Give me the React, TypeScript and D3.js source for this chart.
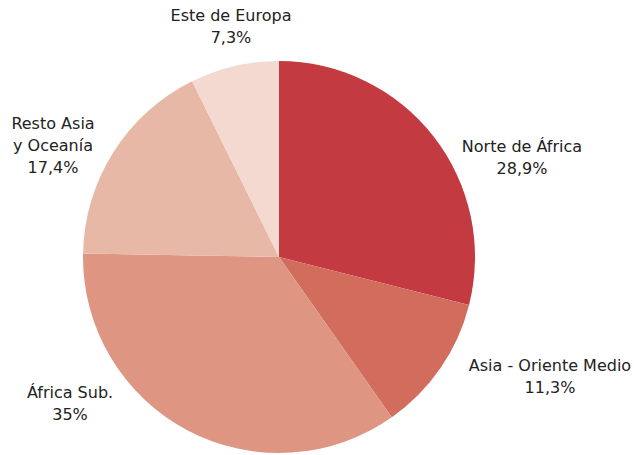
import React, { useEffect, useRef } from "react";
import * as d3 from "d3";

// data
const regions = ["Norte de África", "Asia - Oriente Medio", "África Sub.", "Resto Asia\ny Oceanía", "Este de Europa"];
const shares = [28.9, 11.3, 35, 17.4, 7.3];
const shareLabels = ["28,9%", "11,3%", "35%", "17,4%", "7,3%"];
const colors = ["#C33A40", "#D26D5D", "#DE9582", "#E8B8A7", "#F3D9D0"];

// first-line baseline of each label, relative to the pie center
const labelPos: [number, number][] = [
  [243, -105],
  [271, 114],
  [-209, 141],
  [-226, -128],
  [-48, -236],
];

const W = 634;
const H = 455;

const App = () => {
  const ref = useRef<SVGSVGElement>(null);

  useEffect(() => {
    const svg = d3.select(ref.current);
    svg.selectAll("*").remove();

    const cx = 279;
    const cy = 257;
    const radius = 196;

    const g = svg.append("g").attr("transform", `translate(${cx},${cy})`);

    const pie = d3.pie<number>().sort(null).value(d => d);
    const arc = d3.arc<d3.PieArcDatum<number>>().innerRadius(0).outerRadius(radius);

    g.selectAll("path.slice")
      .data(pie(shares))
      .enter()
      .append("path")
      .attr("class", "slice")
      .attr("d", arc)
      .style("fill", (d, i) => colors[i]);

    const lineH = 22;
    regions.forEach((name, i) => {
      const lines = [...name.split("\n"), shareLabels[i]];
      const [lx, ly] = labelPos[i];
      const t = g.append("text")
        .attr("text-anchor", "middle")
        .style("font-family", "DejaVu Sans, sans-serif")
        .style("font-size", "16px")
        .style("fill", "#222");
      lines.forEach((ln, j) => {
        t.append("tspan")
          .attr("x", lx)
          .attr("y", ly + j * lineH)
          .text(ln);
      });
    });
  }, []);

  return (
    <svg
      ref={ref}
      width={W}
      height={H}
      style={{ position: "absolute", left: 0, top: 0, background: "white" }}
    />
  );
};

export default App;
